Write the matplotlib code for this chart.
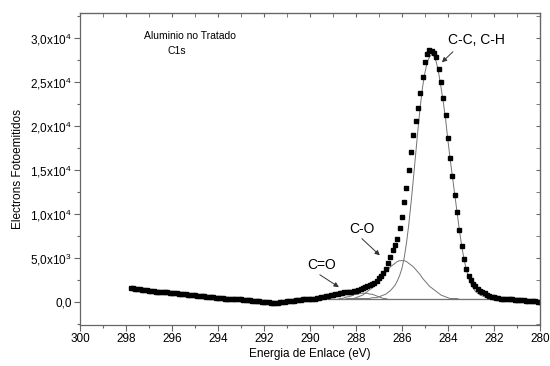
import numpy as np
import matplotlib
matplotlib.use("Agg")
import matplotlib.pyplot as plt
from matplotlib.ticker import MultipleLocator

# measured C1s spectrum, 297.8 -> 280.0 eV in 0.1 eV steps, counts in units of 1e4
energy = np.round(np.arange(297.8, 279.95, -0.1), 1)
counts = [
    0.16, 0.16, 0.15, 0.15, 0.15, 0.14, 0.14, 0.14, 0.13,
    0.13, 0.13, 0.12, 0.12, 0.12, 0.11, 0.11, 0.11, 0.10, 0.10,
    0.10, 0.10, 0.09, 0.09, 0.09, 0.09, 0.08, 0.08, 0.08, 0.08,
    0.07, 0.07, 0.07, 0.07, 0.06, 0.06, 0.06, 0.06, 0.05, 0.05,
    0.05, 0.05, 0.04, 0.04, 0.04, 0.04, 0.03, 0.03, 0.03, 0.03,
    0.02, 0.02, 0.02, 0.02, 0.01, 0.01, 0.01, 0.01, 0.00, 0.00,
    0.00, 0.00, -0.01, -0.01, -0.01, -0.01, 0.00, 0.00, 0.00, 0.01,
    0.01, 0.01, 0.01, 0.02, 0.02, 0.02, 0.03, 0.03, 0.03, 0.04,
    0.04, 0.04, 0.05, 0.05, 0.06, 0.06, 0.07, 0.07, 0.08, 0.08,
    0.09, 0.09, 0.10, 0.10, 0.11, 0.11, 0.12, 0.12, 0.13, 0.13,
    0.14, 0.15, 0.16, 0.17, 0.18, 0.19, 0.20, 0.22, 0.24, 0.27,
    0.30, 0.33, 0.37, 0.44, 0.51, 0.59, 0.65, 0.72, 0.84, 0.97,
    1.14, 1.30, 1.50, 1.70, 1.90, 2.05, 2.20, 2.37, 2.55, 2.72,
    2.82, 2.86, 2.85, 2.83, 2.78, 2.65, 2.50, 2.31, 2.12, 1.86,
    1.63, 1.43, 1.22, 1.02, 0.82, 0.64, 0.49, 0.38, 0.30, 0.25,
    0.21, 0.18, 0.15, 0.13, 0.11, 0.10, 0.08, 0.07, 0.06, 0.06,
    0.05, 0.05, 0.04, 0.04, 0.04, 0.03, 0.03, 0.03, 0.02, 0.02,
    0.02, 0.02, 0.02, 0.01, 0.01, 0.01, 0.01, 0.01, 0.00, 0.00,
]

# fitted components, 289.2 -> 281.6 eV
fit_energy = np.round(np.arange(289.2, 281.55, -0.1), 1)
comp_cc = [
    0.03, 0.03, 0.03,
    0.03, 0.03, 0.03, 0.03, 0.03, 0.03, 0.03, 0.03, 0.04, 0.04,
    0.04, 0.04, 0.04, 0.04, 0.04, 0.04, 0.05, 0.05, 0.05, 0.06,
    0.07, 0.08, 0.09, 0.11, 0.13, 0.16, 0.19, 0.24, 0.30, 0.38,
    0.50, 0.67, 0.88, 1.13, 1.40, 1.68, 1.96, 2.22, 2.44, 2.60,
    2.72, 2.78, 2.81, 2.79, 2.72, 2.60, 2.44, 2.27, 2.08, 1.84,
    1.62, 1.42, 1.22, 1.02, 0.82, 0.64, 0.49, 0.37, 0.28, 0.21,
    0.16, 0.12, 0.10, 0.08, 0.07, 0.06, 0.05, 0.05, 0.04, 0.04,
    0.04, 0.03, 0.03, 0.03,
]
comp_co = [
    0.03, 0.03, 0.03,
    0.03, 0.03, 0.03, 0.03, 0.03, 0.04, 0.04, 0.04, 0.04, 0.05,
    0.06, 0.07, 0.08, 0.10, 0.12, 0.14, 0.16, 0.18, 0.21, 0.24,
    0.27, 0.31, 0.34, 0.37, 0.40, 0.42, 0.44, 0.46, 0.47, 0.47,
    0.47, 0.46, 0.44, 0.42, 0.40, 0.37, 0.34, 0.31, 0.27, 0.24,
    0.21, 0.18, 0.16, 0.14, 0.12, 0.10, 0.08, 0.07, 0.06, 0.05,
    0.04, 0.04, 0.04, 0.04, 0.03, 0.03, 0.03, 0.03, 0.03, 0.03,
    0.03, 0.03, 0.03, 0.03, 0.03, 0.03, 0.03, 0.03, 0.03, 0.03,
    0.03, 0.03, 0.03, 0.03,
]
comp_c_o2 = [
    0.03, 0.03, 0.03,
    0.03, 0.03, 0.04, 0.04, 0.05, 0.06, 0.06, 0.07, 0.08, 0.09,
    0.09, 0.10, 0.10, 0.10, 0.10, 0.09, 0.09, 0.08, 0.07, 0.06,
    0.05, 0.04, 0.04, 0.03, 0.03, 0.03, 0.03, 0.03, 0.03, 0.03,
    0.03, 0.03, 0.03, 0.03, 0.03, 0.03, 0.03, 0.03, 0.03, 0.03,
    0.03, 0.03, 0.03, 0.03, 0.03, 0.03, 0.03, 0.03, 0.03, 0.03,
    0.03, 0.03, 0.03, 0.03, 0.03, 0.03, 0.03, 0.03, 0.03, 0.03,
    0.03, 0.03, 0.03, 0.03, 0.03, 0.03, 0.03, 0.03, 0.03, 0.03,
    0.03, 0.03, 0.03, 0.03,
]
baseline_energy = [289.2, 281.6]
baseline = [0.03, 0.03]

ytick_vals = [0.0, 0.5, 1.0, 1.5, 2.0, 2.5, 3.0]
ytick_labels = ['0,0', '5,0x10$^3$', '1,0x10$^4$', '1,5x10$^4$',
                '2,0x10$^4$', '2,5x10$^4$', '3,0x10$^4$']

plt.rcParams['font.family'] = ['Liberation Sans', 'DejaVu Sans']
plt.rcParams['mathtext.fontset'] = 'custom'
plt.rcParams['mathtext.rm'] = 'Liberation Sans'

fig = plt.figure(figsize=(5.5, 3.66), dpi=100)
ax = fig.add_axes([0.1455, 0.112, 0.836, 0.8525])

line_col = '0.45'
ax.plot(baseline_energy, baseline, color=line_col, lw=0.9)
ax.plot(fit_energy, comp_c_o2, color=line_col, lw=0.7)
ax.plot(fit_energy, comp_co, color=line_col, lw=0.7)
ax.plot(fit_energy, comp_cc, color=line_col, lw=0.7)
ax.plot(energy, counts, 's', color='black', ms=3.3, mec='black')

ax.set_xlim(300, 280)
ax.set_ylim(-0.26, 3.28)
ax.xaxis.set_major_locator(MultipleLocator(2))
ax.xaxis.set_minor_locator(MultipleLocator(1))
ax.set_yticks(ytick_vals)
ax.set_yticklabels(ytick_labels)
ax.yaxis.set_minor_locator(MultipleLocator(0.25))
ax.tick_params(which='major', direction='out', length=4, width=0.8,
               color='0.4', labelsize=8.5, pad=2)
ax.tick_params(which='minor', direction='out', length=2, width=0.8, color='0.4')
for s in ax.spines.values():
    s.set_color('0.4')
    s.set_linewidth(0.9)

top = ax.secondary_xaxis('top')
top.xaxis.set_major_locator(MultipleLocator(2))
top.xaxis.set_minor_locator(MultipleLocator(1))
top.tick_params(which='both', direction='in', length=3, color='0.4', labeltop=False)
top.spines['top'].set_color('0.4')
right = ax.secondary_yaxis('right')
right.yaxis.set_major_locator(MultipleLocator(0.5))
right.yaxis.set_minor_locator(MultipleLocator(0.25))
right.tick_params(which='both', direction='in', length=3, color='0.4', labelright=False)
right.spines['right'].set_color('0.4')

ax.set_xlabel('Energia de Enlace (eV)', fontsize=8.5, labelpad=2)
ax.set_ylabel('Electrons Fotoemitidos', fontsize=8.5, labelpad=4)

ax.text(297.2, 3.02, 'Aluminio no Tratado', fontsize=7.5, va='center')
ax.text(296.2, 2.85, 'C1s', fontsize=7.5, va='center')

# labels and their arrows (arrow tail, arrow tip)
arrow = dict(arrowstyle='-|>', color='0.2', lw=0.7, mutation_scale=7,
             shrinkA=0, shrinkB=0)
ax.text(282.74, 2.97, 'C-C, C-H', fontsize=10, ha='center', va='center')
ax.annotate('', xy=(284.26, 2.72), xytext=(283.78, 2.84), arrowprops=arrow)
ax.text(287.74, 0.83, 'C-O', fontsize=10, ha='center', va='center')
ax.annotate('', xy=(286.96, 0.53), xytext=(287.74, 0.72), arrowprops=arrow)
ax.text(289.48, 0.42, 'C=O', fontsize=10, ha='center', va='center')
ax.annotate('', xy=(288.74, 0.17), xytext=(289.57, 0.31), arrowprops=arrow)

fig.savefig('out.png', dpi=100)
